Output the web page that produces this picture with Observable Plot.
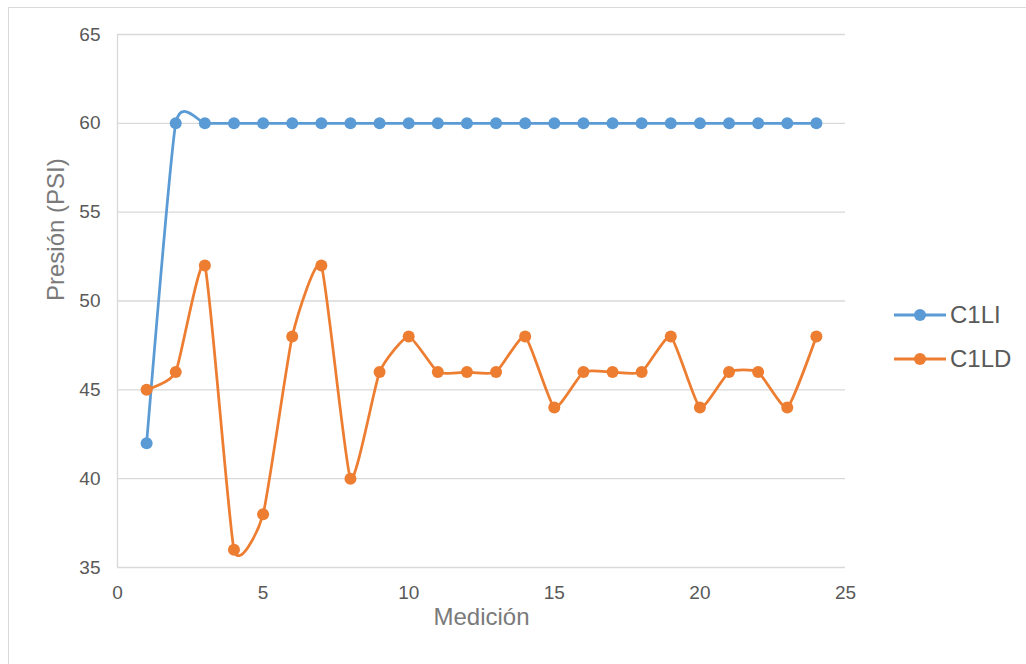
<!DOCTYPE html>
<html>
<head>
<meta charset="utf-8">
<script src="https://cdn.jsdelivr.net/npm/d3@7"></script>
<script src="https://cdn.jsdelivr.net/npm/@observablehq/plot@0.6"></script>
<style>
  html, body { margin: 0; padding: 0; background: #fff; }
  #wrap { position: relative; width: 1026px; height: 664px; overflow: hidden; font-family: "Liberation Sans", Arial, sans-serif; }
  #frame { position: absolute; left: 8px; top: 7px; width: 1040px; height: 680px; border: 1.5px solid #d9d9d9; box-sizing: border-box; }
  #chart { position: absolute; left: 0; top: 0; }
  #legend { position: absolute; left: 893px; top: 293px; }
  .item { display: flex; align-items: center; height: 44px; color: #595959; font-size: 24px; }
  .item svg { margin-right: 3px; }
</style>
</head>
<body>
<div id="wrap">
  <div id="frame"></div>
  <div id="chart"></div>
  <div id="legend"></div>
</div>
<script>
// Measurement number (Medición) and pressure readings (PSI) per series
const medicion = [1, 2, 3, 4, 5, 6, 7, 8, 9, 10, 11, 12, 13, 14, 15, 16, 17, 18, 19, 20, 21, 22, 23, 24];
const c1li = [42, 60, 60, 60, 60, 60, 60, 60, 60, 60, 60, 60, 60, 60, 60, 60, 60, 60, 60, 60, 60, 60, 60, 60];
const c1ld = [45, 46, 52, 36, 38, 48, 52, 40, 46, 48, 46, 46, 46, 48, 44, 46, 46, 46, 48, 44, 46, 46, 44, 48];
const seriesNames = ["C1LI", "C1LD"];
const seriesColors = ["#5b9bd5", "#ed7d31"];
const xTicks = [0, 5, 10, 15, 20, 25];
const yTicks = [35, 40, 45, 50, 55, 60, 65];

const rows = [
  ...medicion.map((m, i) => ({serie: seriesNames[0], medicion: m, psi: c1li[i]})),
  ...medicion.map((m, i) => ({serie: seriesNames[1], medicion: m, psi: c1ld[i]}))
];

const chart = Plot.plot({
  width: 1026,
  height: 664,
  marginLeft: 117,
  marginRight: 181,
  marginTop: 34,
  marginBottom: 97,
  style: {fontFamily: "'Liberation Sans', Arial, sans-serif", fontSize: "19px", color: "#595959", background: "transparent"},
  x: {domain: [0, 25]},
  y: {domain: [35, 65]},
  color: {domain: seriesNames, range: seriesColors},
  marks: [
    Plot.ruleY(yTicks, {stroke: "#d9d9d9", strokeWidth: 1.3}),
    Plot.ruleX([0], {stroke: "#d9d9d9", strokeWidth: 1.3}),
    Plot.axisY({ticks: yTicks, tickSize: 0, tickPadding: 17, label: null, fill: "#595959"}),
    Plot.axisX({ticks: xTicks, tickSize: 0, tickPadding: 18, label: null, fill: "#595959"}),
    Plot.text(["Presión (PSI)"], {frameAnchor: "left", dx: -61, rotate: -90, fontSize: 24, fill: "#7a7a7a"}),
    Plot.text(["Medición"], {frameAnchor: "bottom", dy: 57, fontSize: 24, fill: "#7a7a7a"}),
    Plot.line(rows, {x: "medicion", y: "psi", z: "serie", stroke: "serie", curve: "cardinal", tension: 0.5, strokeWidth: 2.75}),
    Plot.dot(rows, {x: "medicion", y: "psi", fill: "serie", r: 6, stroke: "none"})
  ]
});
document.getElementById("chart").appendChild(chart);

// Legend: line-with-marker swatch followed by the series name
const legend = document.getElementById("legend");
seriesNames.forEach((name, i) => {
  const item = document.createElement("div");
  item.className = "item";
  item.innerHTML = `<svg width="54" height="14"><line x1="1" y1="7" x2="53" y2="7" stroke="${seriesColors[i]}" stroke-width="3"/><circle cx="27" cy="7" r="6" fill="${seriesColors[i]}"/></svg><span>${name}</span>`;
  legend.appendChild(item);
});
</script>
</body>
</html>
